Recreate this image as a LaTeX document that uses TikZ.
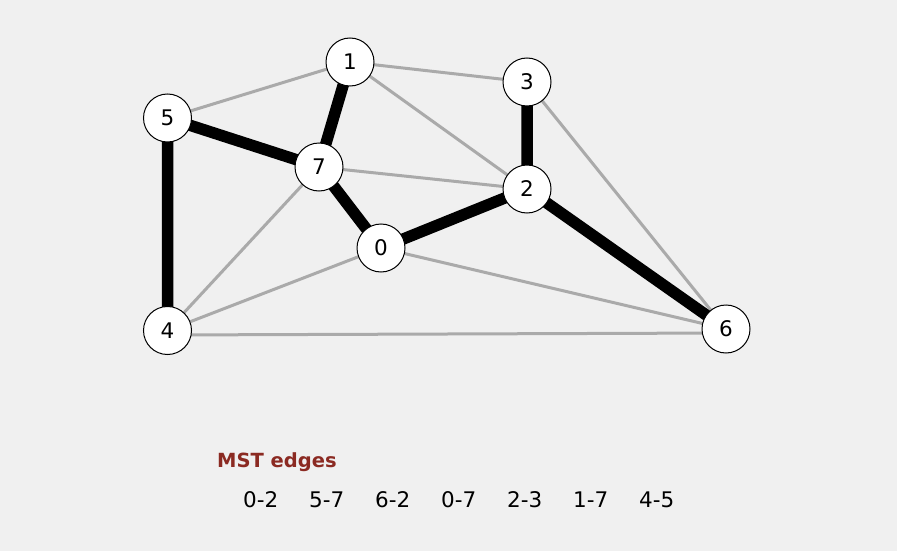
\documentclass[tikz,border=0pt]{standalone}
\usepackage{fontspec}
\setmainfont{DejaVu Sans}
\definecolor{bg}{HTML}{F0F0F0}
\definecolor{lgray}{HTML}{AAAAAA}
\definecolor{mstred}{HTML}{8B2A22}
\begin{document}
\begin{tikzpicture}[x=1pt,y=-1pt,
  vtx/.style={circle,draw=black,line width=1pt,fill=white,minimum size=48pt,inner sep=0pt,font=\fontsize{21.5}{24}\selectfont},
  gedge/.style={draw=lgray,line width=3pt},
  bedge/.style={draw=black,line width=11.5pt},
  lst/.style={anchor=base west,font=\fontsize{21.5}{24}\selectfont,inner sep=0pt}]
\fill[bg] (0,0) rectangle (897,551);
\useasboundingbox (0,0) rectangle (897,551);
\coordinate (c1) at (350,62);
\coordinate (c3) at (527,82);
\coordinate (c5) at (167.5,118);
\coordinate (c7) at (319,167);
\coordinate (c2) at (527,189);
\coordinate (c0) at (381,248);
\coordinate (c4) at (167.5,330.5);
\coordinate (c6) at (726,329);
\path[gedge] (c5)--(c1) (c1)--(c3) (c1)--(c2)
  (c3)--(c6) (c7)--(c2) (c7)--(c4)
  (c0)--(c4) (c0)--(c6) ([yshift=-4.5pt]c4)--([yshift=-4pt]c6);
\path[bedge] (c1)--(c7) (c5)--(c7) (c5)--(c4)
  (c7)--(c0) (c0)--(c2) (c3)--(c2) (c2)--(c6);
\foreach \n in {0,...,7}
  \node[vtx] (v\n) at (c\n) {\n};
\node[anchor=base west,text=mstred,font=\fontsize{19.5}{22}\selectfont\bfseries,inner sep=0pt] (title) at (217,467) {MST edges};
\foreach \t [count=\k from 0] in {0-2,5-7,6-2,0-7,2-3,1-7,4-5}
  \node[lst] (e\k) at (243+66*\k,507) {\t};
\end{tikzpicture}
\end{document}
